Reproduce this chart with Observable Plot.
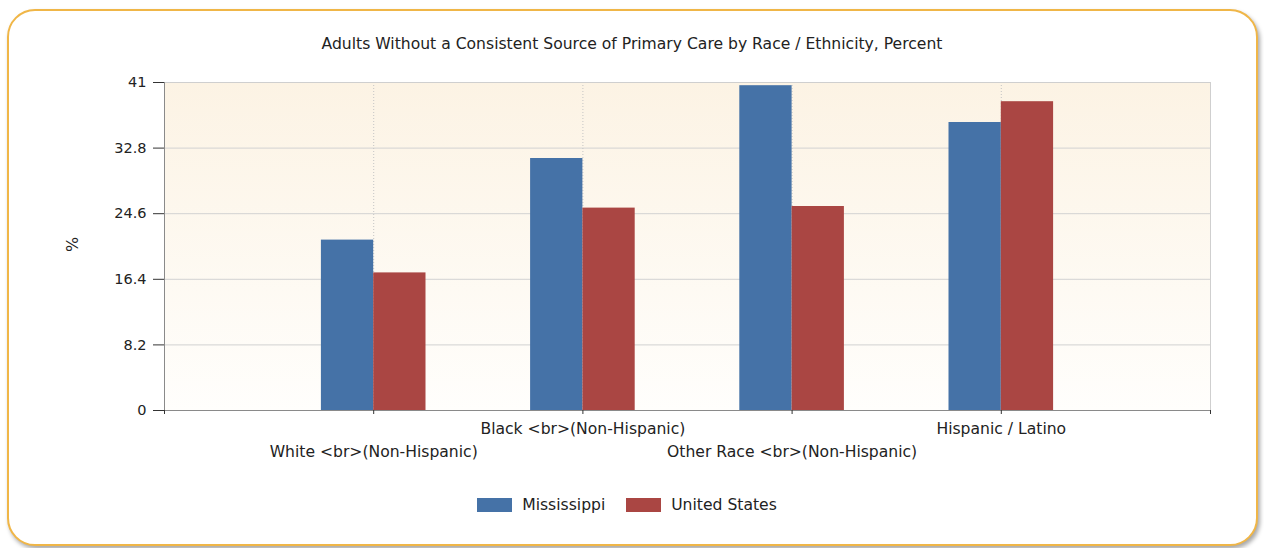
<!DOCTYPE html>
<html><head><meta charset="utf-8">
<script src="https://cdn.jsdelivr.net/npm/d3@7"></script>
<script src="https://cdn.jsdelivr.net/npm/@observablehq/plot@0.6"></script>
<style>
html,body{margin:0;padding:0;background:#fff;}
#wrap{position:relative;width:1264px;height:548px;overflow:hidden;font-family:"DejaVu Sans",sans-serif;color:#333;}
#frame{position:absolute;left:7px;top:9px;width:1247px;height:533px;border:2px solid #f0b647;border-radius:28px;box-shadow:2px 3px 4px rgba(0,0,0,.35);background:#fff;}
#chart{position:absolute;left:0;top:0;}
#title{position:absolute;left:0;width:1264px;top:35px;text-align:center;font-size:15.6px;color:#222;}
#ylab{position:absolute;left:65px;top:235px;font-size:16px;transform:rotate(-90deg);color:#222;}
#legend{position:absolute;top:496px;left:-5px;width:1264px;display:flex;justify-content:center;font-size:15.6px;color:#222;}
.item{display:flex;align-items:center;margin:0 9px;}
.item span{min-width:86px;}
.sw{width:35px;height:14px;margin-right:10px;}
</style></head>
<body><div id="wrap"><div id="frame"></div><div id="chart"></div>
<div id="title">Adults Without a Consistent Source of Primary Care by Race / Ethnicity, Percent</div>
<div id="ylab">%</div><div id="legend"></div></div>
<script>
const categories = ["White <br>(Non-Hispanic)", "Black <br>(Non-Hispanic)", "Other Race <br>(Non-Hispanic)", "Hispanic / Latino"];
const mississippi = [21.3, 31.5, 40.6, 36.0];
const unitedStates = [17.2, 25.3, 25.5, 38.6];
const yTicks = [0, 8.2, 16.4, 24.6, 32.8, 41];
const seriesNames = ["Mississippi", "United States"];
const seriesColors = ["#4572A7", "#AA4643"];

const rows = categories.flatMap((c, i) => [
  {category: c, pos: i + 1, series: seriesNames[0], value: mississippi[i], side: -1},
  {category: c, pos: i + 1, series: seriesNames[1], value: unitedStates[i], side: 0}
]);
const cats = categories.map((c, i) => ({category: c, pos: i + 1, row: i % 2 === 0 ? 2 : 1}));

const gradient = () => {
  const g = d3.create("svg:defs");
  const lg = g.append("linearGradient").attr("id", "bgGrad").attr("x1", 0).attr("y1", 0).attr("x2", 0).attr("y2", 1);
  lg.append("stop").attr("offset", 0).attr("stop-color", "#fcf3e4");
  lg.append("stop").attr("offset", 1).attr("stop-color", "#fffefc");
  return g.node();
};

const chart = Plot.plot({
  width: 1264, height: 548,
  marginLeft: 164, marginRight: 54, marginTop: 82, marginBottom: 138,
  style: {background: "transparent", fontFamily: "'DejaVu Sans', sans-serif", fontSize: "15px", color: "#333"},
  x: {type: "linear", domain: [0, 5]},
  y: {domain: [0, 41]},
  color: {domain: seriesNames, range: seriesColors},
  marks: [
    gradient,
    Plot.frame({fill: "url(#bgGrad)"}),
    Plot.gridY(yTicks, {stroke: "#d2d2d2", strokeOpacity: 1}),
    Plot.gridX([1, 2, 3, 4], {stroke: "#c4c4c4", strokeOpacity: 1, strokeDasharray: "1,2"}),
    Plot.rectY(rows, {x1: d => d.pos + d.side * 0.25, x2: d => d.pos + (d.side + 1) * 0.25, y: "value", fill: "series"}),
    Plot.frame({stroke: "#cfcfcf"}),
    Plot.ruleX([0], {stroke: "#8a8a8a"}),
    Plot.ruleY([0], {stroke: "#8a8a8a"}),
    Plot.axisY(yTicks, {tickSize: 11, tickPadding: 7, tickFormat: d => d.toString(), label: null, fontSize: 14.5, fill: "#222"}),
    Plot.axisX([0, 1, 2, 3, 4, 5], {tickSize: 4, tickFormat: () => "", label: null}),
    Plot.text(cats.filter(d => d.row === 1), {x: "pos", text: "category", frameAnchor: "bottom", dy: 23, fontSize: 15.6, fill: "#222"}),
    Plot.text(cats.filter(d => d.row === 2), {x: "pos", text: "category", frameAnchor: "bottom", dy: 46, fontSize: 15.6, fill: "#222"})
  ]
});
document.getElementById("chart").appendChild(chart);

const legend = document.getElementById("legend");
seriesNames.forEach((n, i) => {
  const it = document.createElement("div"); it.className = "item";
  const sw = document.createElement("div"); sw.className = "sw"; sw.style.background = seriesColors[i];
  const t = document.createElement("span"); t.textContent = n;
  it.appendChild(sw); it.appendChild(t); legend.appendChild(it);
});
</script></body></html>
